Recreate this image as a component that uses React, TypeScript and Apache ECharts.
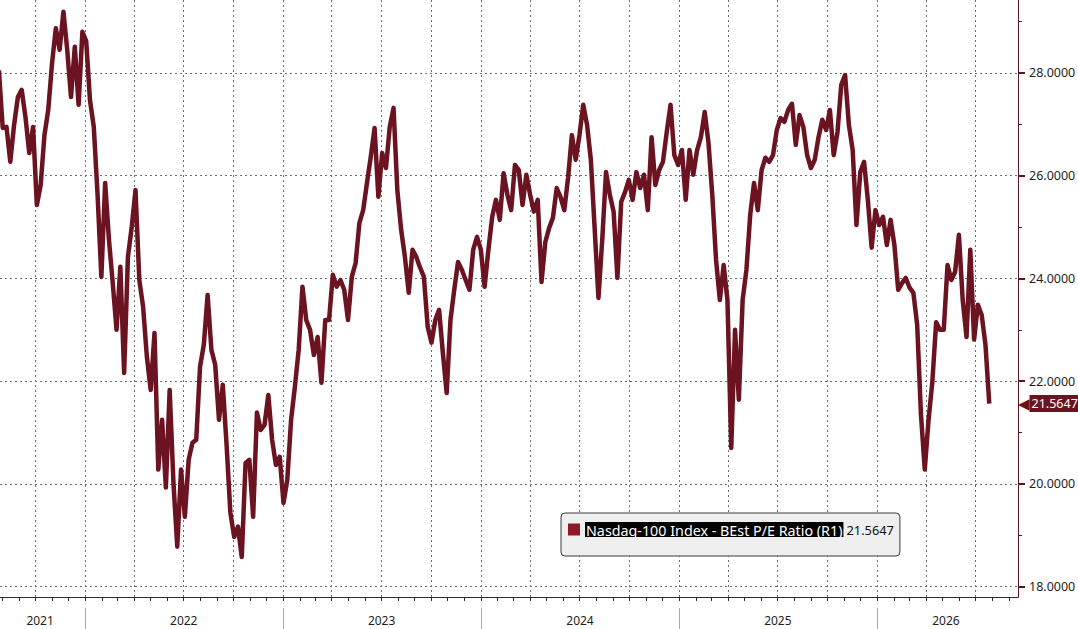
import React, { useEffect, useRef } from "react";
import * as echarts from "echarts";

// ---------- data ----------
const SERIES_NAME = "Nasdaq-100 Index - BEst P/E Ratio (R1)";
const LAST_VALUE = 21.5647;
// weekly observations, first one on 2021-07-26
const START = { y: 2021, m: 7, d: 26 };
const PE_VALUES = [
  28.05, 26.93, 26.95, 26.27, 26.99, 27.53, 27.67, 27.14, 26.44, 26.95,
  25.43, 25.82, 26.79, 27.28, 28.19, 28.87, 28.45, 29.19, 28.45, 27.53,
  28.51, 27.38, 28.8, 28.62, 27.47, 26.95, 25.63, 24.03, 25.86, 24.75,
  23.91, 23.0, 24.23, 22.16, 24.42, 25.0, 25.72, 23.97, 23.45, 22.47,
  21.83, 22.94, 20.28, 21.25, 19.93, 21.83, 20.02, 18.78, 20.28, 19.36,
  20.47, 20.8, 20.86, 22.28, 22.71, 23.68, 22.61, 22.32, 21.25, 21.93,
  20.76, 19.44, 18.97, 19.17, 18.58, 20.41, 20.47, 19.36, 21.39, 21.05,
  21.15, 21.73, 20.86, 20.37, 20.53, 19.63, 20.08, 21.25, 21.89, 22.61,
  23.84, 23.19, 23.0, 22.51, 22.86, 21.97, 23.19, 23.19, 24.07, 23.84,
  23.97, 23.78, 23.19, 24.03, 24.3, 25.08, 25.33, 25.86, 26.37, 26.93,
  25.59, 26.44, 26.15, 26.95, 27.32, 25.72, 24.95, 24.42, 23.72, 24.56,
  24.42, 24.21, 24.03, 23.06, 22.75, 23.19, 23.39, 22.55, 21.77, 23.19,
  23.78, 24.32, 24.17, 23.97, 23.78, 24.56, 24.81, 24.56, 23.84, 24.56,
  25.2, 25.53, 25.14, 26.05, 25.63, 25.33, 26.21, 26.11, 25.43, 26.02,
  25.63, 25.3, 25.53, 23.93, 24.71, 24.98, 25.18, 25.76, 25.59, 25.33,
  25.96, 26.79, 26.31, 26.79, 27.38, 26.99, 26.31, 24.98, 23.62, 24.75,
  26.07, 25.63, 25.3, 24.01, 25.49, 25.68, 25.92, 25.53, 26.07, 25.76,
  26.02, 25.33, 26.75, 25.82, 26.11, 26.27, 26.85, 27.38, 26.4, 26.21,
  26.5, 25.53, 26.5, 26.02, 26.5, 26.75, 27.24, 26.64, 25.63, 24.36,
  23.58, 24.26, 23.58, 20.7, 23.0, 21.64, 23.58, 24.17, 25.24, 25.86,
  25.33, 26.11, 26.35, 26.27, 26.4, 26.89, 27.12, 27.05, 27.28, 27.4,
  26.6, 27.18, 26.95, 26.4, 26.15, 26.31, 26.75, 27.09, 26.89, 27.28,
  26.4, 26.85, 27.77, 27.96, 26.99, 26.5, 25.04, 26.07, 26.27, 25.53,
  24.6, 25.33, 25.04, 25.2, 24.65, 25.14, 24.65, 23.78, 23.91, 24.01,
  23.82, 23.72, 23.1, 21.35, 20.28, 21.25, 21.99, 23.15, 23.0, 23.0,
  24.26, 23.97, 24.13, 24.85, 23.58, 22.86, 24.56, 22.81, 23.49, 23.29,
  22.71, 21.5647,
];

// axis ranges and ticks
const X_MIN = "2021-07-28";
const X_MAX = "2026-09-18";
const Y_MIN = 17.8;
const Y_MAX = 29.42;
const Y_MAJOR = [18, 20, 22, 24, 26, 28];
const Y_MINOR = [19, 21, 23, 25, 27, 29];
const YEAR_STARTS = ["2022-01-01", "2023-01-01", "2024-01-01", "2025-01-01", "2026-01-01"];
const YEAR_LABEL_AT = ["2021-10-10", "2022-07-02", "2023-07-02", "2024-07-02", "2025-07-02", "2026-05-08"];

// ---------- helpers ----------
const ts = (s: string) => {
  const [y, m, d] = s.split("-").map(Number);
  return new Date(y, m - 1, d).getTime();
};
const pad = (n: number) => (n < 10 ? "0" + n : "" + n);
const MONTH_TICKS: string[] = [];
{
  let y = 2021;
  let m = 8;
  while (y < 2026 || (y === 2026 && m <= 9)) {
    MONTH_TICKS.push(`${y}-${pad(m)}-01`);
    m += 1;
    if (m > 12) {
      m = 1;
      y += 1;
    }
  }
}
const QUARTER_TICKS = MONTH_TICKS.filter((s) => [1, 4, 7, 10].includes(+s.slice(5, 7)));

const DATES = PE_VALUES.map((_, i) => new Date(START.y, START.m - 1, START.d + 7 * i).getTime());
const SERIES_DATA = PE_VALUES.map((v, i) => [DATES[i], v]);

// ---------- styles ----------
const LINE_COLOR = "#6c1321";
const AXIS_RED = "#5a1720";
const GRID_COLOR = "#707070";
const FONT = "Noto Sans";

const gridBox = {
  left: 0,
  right: 60,
  top: 0,
  bottom: 32,
  containLabel: false,
  outerBoundsMode: "none",
};

const baseX = {
  type: "value",
  min: ts(X_MIN),
  max: ts(X_MAX),
  position: "bottom",
  scale: true,
};
const baseY = {
  type: "value",
  min: Y_MIN,
  max: Y_MAX,
  position: "right",
};

const option: any = {
  animation: false,
  backgroundColor: "#ffffff",
  textStyle: { fontFamily: FONT },
  grid: [gridBox, gridBox, gridBox],
  xAxis: [
    {
      ...baseX,
      gridIndex: 0,
      axisLine: { show: true, onZero: false, lineStyle: { color: "#2b2b2b", width: 1 } },
      axisTick: { show: true, customValues: QUARTER_TICKS.map(ts), length: 4, lineStyle: { color: "#2b2b2b" } },
      axisLabel: { show: false },
      splitLine: { show: true, lineStyle: { color: GRID_COLOR, type: [2, 3], width: 1 } },
    },
    {
      ...baseX,
      gridIndex: 1,
      offset: 11,
      axisLine: { show: false, onZero: false },
      axisTick: { show: true, customValues: YEAR_STARTS.map(ts), length: 22, lineStyle: { color: "#a8a8a8" } },
      axisLabel: {
        show: true,
        customValues: YEAR_LABEL_AT.map(ts),
        margin: 6,
        fontSize: 12,
        color: "#1e1e1e",
        fontFamily: FONT,
        formatter: (v: number) => String(new Date(v).getFullYear()),
      },
      splitLine: { show: false },
    },
    {
      ...baseX,
      gridIndex: 2,
      axisLine: { show: false, onZero: false },
      axisTick: { show: true, customValues: MONTH_TICKS.map(ts), length: 4, lineStyle: { color: "#2b2b2b" } },
      axisLabel: { show: false },
      splitLine: { show: false },
    },
  ],
  yAxis: [
    {
      ...baseY,
      gridIndex: 0,
      axisLine: { show: true, lineStyle: { color: AXIS_RED, width: 1 } },
      axisTick: { show: true, customValues: Y_MAJOR, length: 7, lineStyle: { color: AXIS_RED, width: 2 } },
      axisLabel: {
        show: true,
        customValues: Y_MAJOR,
        margin: 11,
        fontSize: 12.5,
        color: "#1e1e1e",
        fontFamily: FONT,
        formatter: (v: number) => v.toFixed(4),
      },
      splitLine: { show: true, lineStyle: { color: GRID_COLOR, type: [2, 3], width: 1 } },
    },
    {
      ...baseY,
      gridIndex: 1,
      axisLine: { show: false },
      axisTick: { show: true, customValues: Y_MINOR, length: 4, lineStyle: { color: AXIS_RED, width: 1 } },
      axisLabel: { show: false },
      splitLine: { show: false },
    },
    {
      ...baseY,
      gridIndex: 2,
      axisLine: { show: false },
      axisTick: { show: false },
      axisLabel: {
        show: true,
        customValues: [LAST_VALUE],
        margin: 0,
        formatter: () => `{arr|◀}{tag|${LAST_VALUE.toFixed(4)}}`,
        rich: {
          arr: {
            color: LINE_COLOR,
            fontSize: 15,
            lineHeight: 19,
            verticalAlign: "middle",
            fontFamily: "DejaVu Sans",
            padding: [0, 0, 0, 0],
          },
          tag: {
            color: "#ffffff",
            backgroundColor: LINE_COLOR,
            fontSize: 12.5,
            lineHeight: 15,
            fontFamily: FONT,
            padding: [2, 4, 2, 2],
            verticalAlign: "middle",
          },
        },
      },
      splitLine: { show: false },
    },
  ],
  legend: {
    show: true,
    left: 561,
    top: 513,
    orient: "horizontal",
    backgroundColor: "#efefef",
    borderColor: "#3a3a3a",
    borderWidth: 1,
    borderRadius: 4,
    padding: [9, 6, 19, 7],
    itemWidth: 12,
    itemHeight: 12,
    itemGap: 0,
    icon: "rect",
    selectedMode: false,
    data: [{ name: SERIES_NAME, itemStyle: { color: "#8d1a24" } }],
    formatter: (name: string) => `{hl|${name}} {v|${LAST_VALUE.toFixed(4)}}`,
    textStyle: {
      fontFamily: FONT,
      rich: {
        hl: { backgroundColor: "#000000", color: "#ffffff", fontSize: 14.3, fontFamily: FONT, padding: [1, 1, 0, 1] },
        v: { color: "#111111", fontSize: 12.8, fontFamily: FONT },
      },
    },
  },
  series: [
    {
      name: SERIES_NAME,
      type: "line",
      xAxisIndex: 0,
      yAxisIndex: 0,
      data: SERIES_DATA,
      showSymbol: false,
      symbol: "none",
      clip: true,
      lineStyle: { color: LINE_COLOR, width: 4.5, join: "round" },
      itemStyle: { color: LINE_COLOR },
      emphasis: { disabled: true },
    },
  ],
};

export default function App() {
  const ref = useRef<HTMLDivElement>(null);
  useEffect(() => {
    if (!ref.current) return;
    const chart = echarts.init(ref.current, null, { renderer: "svg" });
    chart.setOption(option);
    return () => chart.dispose();
  }, []);
  return (
    <div
      ref={ref}
      style={{ position: "fixed", left: 0, top: 0, width: 1078, height: 629, background: "#fff" }}
    />
  );
}
